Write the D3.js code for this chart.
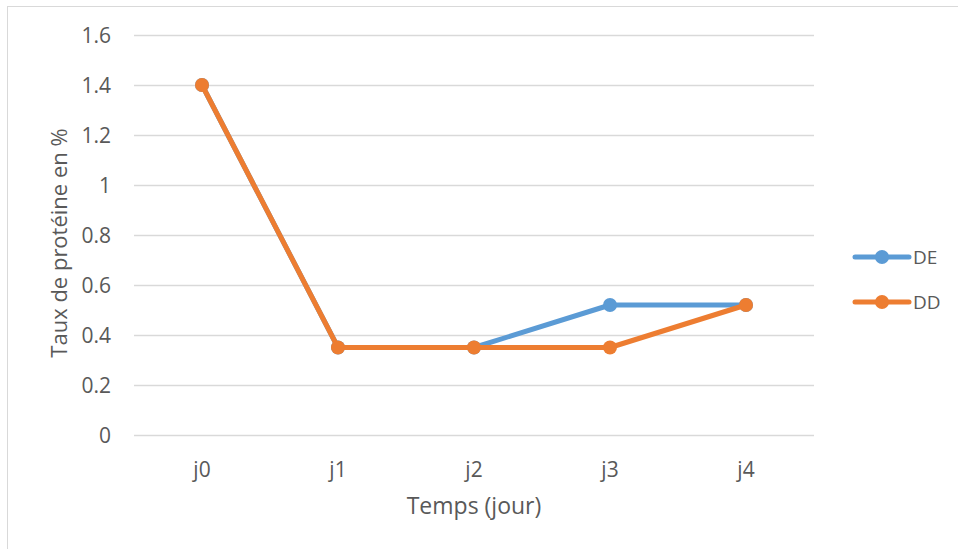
<!DOCTYPE html>
<html lang="fr">
<head>
    <meta charset="UTF-8">
    <title>Taux de protéine</title>
    <script src="https://d3js.org/d3.v7.min.js"></script>
    <style>
        body { margin: 0; background: #ffffff; font-family: "Open Sans", sans-serif; }
        svg text { fill: #595959; }
    </style>
</head>
<body>
<svg id="chart" width="958" height="549"></svg>
<script>
    const categories = ['j0', 'j1', 'j2', 'j3', 'j4'];
    const valuesDE = [1.4, 0.35, 0.35, 0.52, 0.52];
    const valuesDD = [1.4, 0.35, 0.35, 0.35, 0.52];
    const yTicks = [0, 0.2, 0.4, 0.6, 0.8, 1, 1.2, 1.4, 1.6];

    const series = [
        { name: 'DE', values: valuesDE, color: '#5b9bd5' },
        { name: 'DD', values: valuesDD, color: '#ed7d31' }
    ];

    const svg = d3.select('#chart');

    // outer frame
    svg.append('rect')
        .attr('x', 7.5).attr('y', 6.5)
        .attr('width', 960).attr('height', 560)
        .attr('fill', 'none')
        .attr('stroke', '#d9d9d9');

    const x = d3.scaleBand().domain(categories).range([134, 814]);
    const y = d3.scaleLinear().domain([0, 1.6]).range([435, 35]);

    // gridlines
    svg.append('g').selectAll('line')
        .data(yTicks)
        .join('line')
        .attr('x1', 134).attr('x2', 814)
        .attr('y1', d => Math.round(y(d)) + 0.5)
        .attr('y2', d => Math.round(y(d)) + 0.5)
        .attr('stroke', '#d9d9d9')
        .attr('stroke-width', 1.3);

    // y tick labels
    svg.append('g').selectAll('text')
        .data(yTicks)
        .join('text')
        .attr('x', 111)
        .attr('y', d => y(d))
        .attr('dy', '0.36em')
        .attr('text-anchor', 'end')
        .style('font-size', '21px')
        .text(d => d);

    // x tick labels
    svg.append('g').selectAll('text')
        .data(categories)
        .join('text')
        .attr('x', d => x(d) + x.bandwidth() / 2)
        .attr('y', 477)
        .attr('text-anchor', 'middle')
        .style('font-size', '21px')
        .text(d => d);

    // axis titles
    svg.append('text')
        .attr('x', 474).attr('y', 514)
        .attr('text-anchor', 'middle')
        .style('font-size', '23px')
        .text('Temps (jour)');

    svg.append('text')
        .attr('transform', 'translate(67,243) rotate(-90)')
        .attr('text-anchor', 'middle')
        .style('font-size', '22px')
        .text('Taux de protéine en %');

    const line = d3.line()
        .x((d, i) => x(categories[i]) + x.bandwidth() / 2)
        .y(d => y(d));

    series.forEach(s => {
        const g = svg.append('g');
        g.append('path')
            .datum(s.values)
            .attr('d', line)
            .attr('fill', 'none')
            .attr('stroke', s.color)
            .attr('stroke-width', 5)
            .attr('stroke-linejoin', 'round')
            .attr('stroke-linecap', 'round');
        g.selectAll('circle')
            .data(s.values)
            .join('circle')
            .attr('cx', (d, i) => x(categories[i]) + x.bandwidth() / 2)
            .attr('cy', d => y(d))
            .attr('r', 7)
            .attr('fill', s.color);
    });

    // legend
    const legend = svg.append('g').selectAll('g')
        .data(series)
        .join('g')
        .attr('transform', (d, i) => `translate(0,${257 + i * 45})`);
    legend.append('line')
        .attr('x1', 855).attr('x2', 909)
        .attr('stroke', d => d.color)
        .attr('stroke-width', 5)
        .attr('stroke-linecap', 'round');
    legend.append('circle')
        .attr('cx', 882).attr('r', 7)
        .attr('fill', d => d.color);
    legend.append('text')
        .attr('x', 913).attr('dy', '0.36em')
        .style('font-size', '19px')
        .text(d => d.name);
</script>
</body>
</html>
